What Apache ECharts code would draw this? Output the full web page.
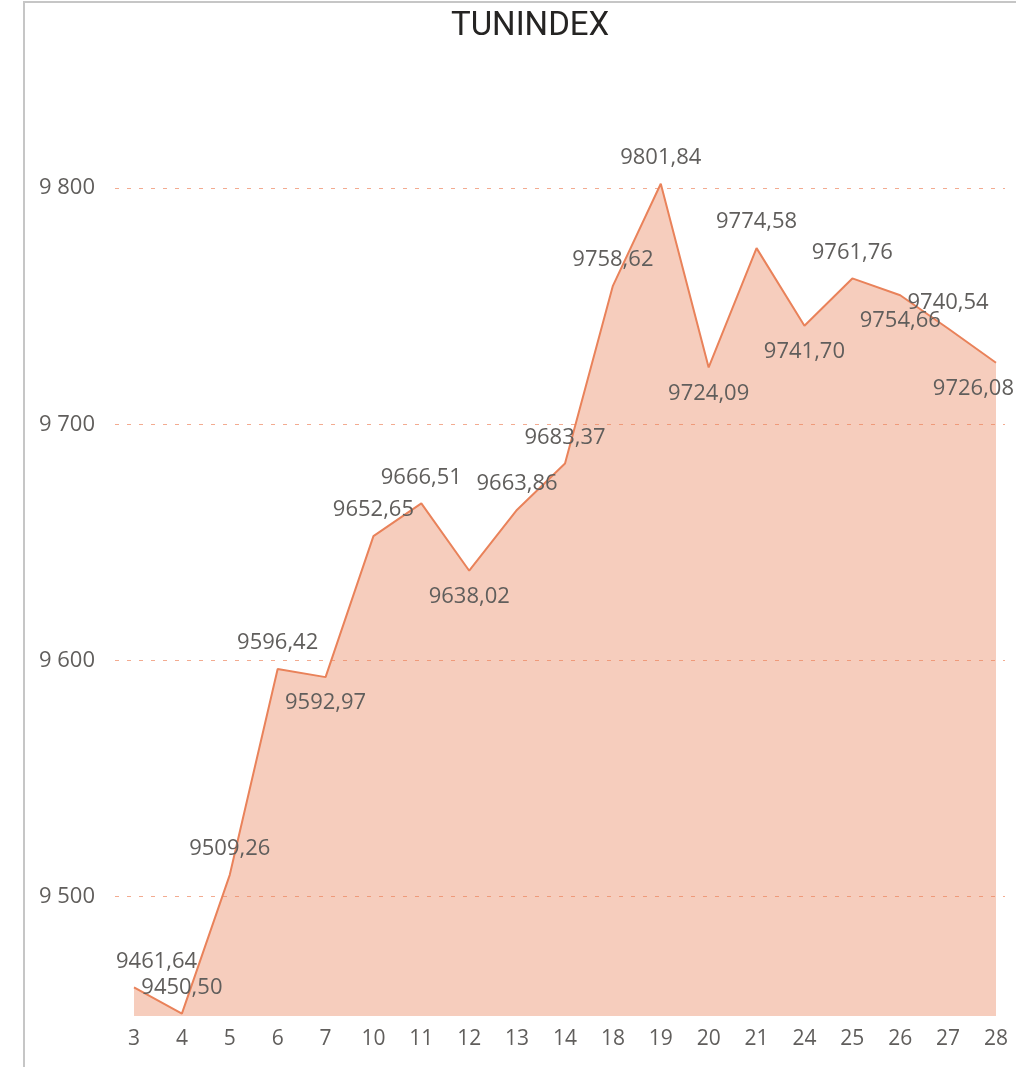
<!DOCTYPE html>
<html>
<head>
<meta charset="utf-8">
<title>TUNINDEX</title>
<script src="https://cdn.jsdelivr.net/npm/echarts@6/dist/echarts.min.js"></script>
<style>
  html, body { margin: 0; padding: 0; background: #fff; }
  #main { width: 1016px; height: 1067px; }
</style>
</head>
<body>
<div id="main"></div>
<script>
  // jours de séance
  var days = ['3', '4', '5', '6', '7', '10', '11', '12', '13', '14', '18', '19', '20', '21', '24', '25', '26', '27', '28'];
  // clôture TUNINDEX
  var closes = [9461.64, 9450.50, 9509.26, 9596.42, 9592.97, 9652.65, 9666.51, 9638.02, 9663.86, 9683.37,
                9758.62, 9801.84, 9724.09, 9774.58, 9741.70, 9761.76, 9754.66, 9740.54, 9726.08];
  // emplacement des étiquettes (au-dessus / en dessous)
  var labelSide = ['top', 'top', 'top', 'top', 'bottom', 'top', 'top', 'bottom', 'top', 'top',
                   'top', 'top', 'bottom', 'top', 'bottom', 'top', 'bottom', 'top', 'bottom'];

  var fmtNum = function (v) {
    return v.toFixed(2).replace('.', ',');
  };
  var yMin = 9449.5, yMax = 9850;

  var myChart = echarts.init(document.getElementById('main'));
  myChart.setOption({
    animation: false,
    textStyle: { fontFamily: '"Open Sans", "Noto Sans", sans-serif' },
    title: {
      text: 'TUNINDEX',
      left: 446,
      top: 5,
      textStyle: { fontFamily: 'Roboto, sans-serif', fontSize: 33, fontWeight: 'normal', color: '#252423' }
    },
    graphic: [{
      type: 'polyline',
      shape: { points: [[24, 1067], [24, 2], [1016, 2]] },
      style: { stroke: '#c6c6c6', lineWidth: 2, fill: null }
    }],
    grid: [
      { left: 134, right: 20, top: 70, bottom: 51 },
      // grille de fond, un peu plus large, pour les pointillés
      { left: 115, right: 11, top: 70, bottom: 51 }
    ],
    xAxis: [{
      type: 'category',
      gridIndex: 0,
      boundaryGap: false,
      data: days,
      axisLine: { show: false },
      axisTick: { show: false },
      axisLabel: { color: '#605e5c', fontSize: 21, margin: 13 }
    }, {
      type: 'value',
      gridIndex: 1,
      min: 0,
      max: 1,
      show: false
    }],
    yAxis: [{
      type: 'value',
      gridIndex: 0,
      min: yMin,
      max: yMax,
      splitNumber: 4,
      axisLine: { show: false },
      axisTick: { show: false },
      splitLine: { show: false },
      axisLabel: {
        color: '#605e5c',
        fontSize: 22,
        margin: 39,
        showMinLabel: false,
        showMaxLabel: false,
        formatter: function (v) {
          if (v % 100 !== 0) return '';
          return String(v).replace(/\B(?=(\d{3})+(?!\d))/g, ' ');
        }
      }
    }, {
      type: 'value',
      gridIndex: 1,
      min: yMin,
      max: yMax,
      splitNumber: 4,
      axisLine: { show: false },
      axisTick: { show: false },
      axisLabel: { show: false },
      splitLine: {
        showMinLine: false,
        showMaxLine: false,
        lineStyle: { color: '#f3ab90', type: [4, 8], width: 1.2 }
      }
    }],
    series: [{
      name: 'TUNINDEX',
      type: 'line',
      xAxisIndex: 0,
      yAxisIndex: 0,
      data: closes.map(function (v, i) {
        return { value: v, label: { position: labelSide[i] } };
      }),
      showSymbol: true,
      symbol: 'circle',
      symbolSize: 0,
      lineStyle: { color: '#e9825a', width: 2 },
      itemStyle: { color: '#e9825a' },
      areaStyle: { color: '#e9825a', opacity: 0.4, origin: 'start' },
      label: {
        show: true,
        distance: 15,
        color: '#605e5c',
        fontSize: 22,
        formatter: function (p) { return fmtNum(p.value); }
      },
      // garder les étiquettes dans la zone du graphique
      labelLayout: function (params) {
        var r = params.labelRect;
        if (r.x + r.width > 1014) {
          return { dx: 1014 - (r.x + r.width) };
        }
        if (r.x < 116) {
          return { dx: 116 - r.x };
        }
        return {};
      }
    }]
  });
</script>
</body>
</html>
